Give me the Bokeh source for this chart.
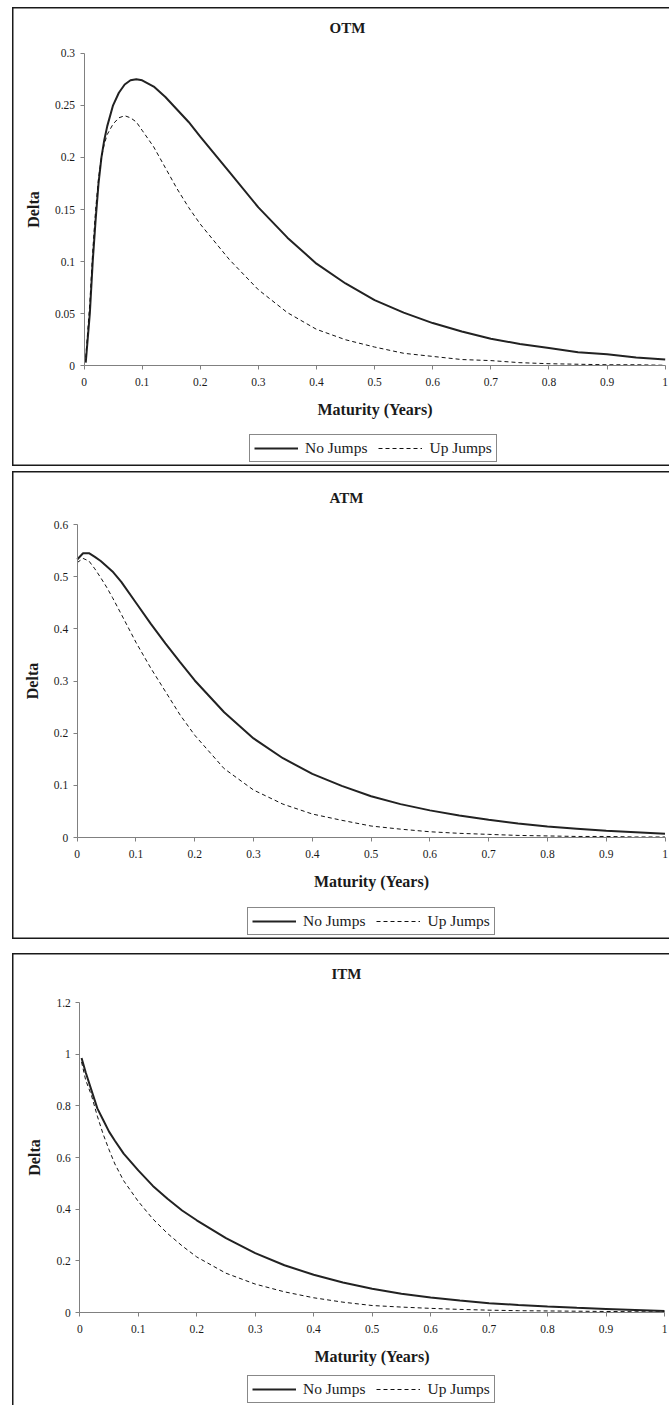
from bokeh.plotting import figure
from bokeh.models import (Range1d, FixedTicker, CustomJSTickFormatter, Legend,
                          LegendItem)
from bokeh.layouts import column
from bokeh.embed import file_html
from bokeh.resources import INLINE

# ---------------- data ----------------
X_TICKS = [0, 0.1, 0.2, 0.3, 0.4, 0.5, 0.6, 0.7, 0.8, 0.9, 1.0]
SERIES_NAMES = ["No Jumps", "Up Jumps"]

OTM_TITLE = "OTM"
OTM_Y_TICKS = [0, 0.05, 0.1, 0.15, 0.2, 0.25, 0.3]
OTM_X = [0.003, 0.01, 0.015, 0.02, 0.025, 0.03, 0.035, 0.04, 0.05, 0.06, 0.07,
         0.08, 0.09, 0.1, 0.12, 0.14, 0.16, 0.18, 0.2, 0.25, 0.3, 0.35, 0.4,
         0.45, 0.5, 0.55, 0.6, 0.65, 0.7, 0.75, 0.8, 0.85, 0.9, 0.95, 1.0]
OTM_NO_JUMPS = [0.003, 0.05, 0.1, 0.14, 0.175, 0.2, 0.217, 0.23, 0.25, 0.262,
                0.27, 0.274, 0.275, 0.274, 0.268, 0.258, 0.246, 0.234, 0.22,
                0.186, 0.152, 0.123, 0.098, 0.079, 0.063, 0.051, 0.041, 0.033,
                0.026, 0.021, 0.017, 0.013, 0.011, 0.008, 0.006]
OTM_UP_JUMPS = [0.008, 0.06, 0.11, 0.15, 0.18, 0.2, 0.213, 0.222, 0.232, 0.238,
                0.24, 0.238, 0.234, 0.226, 0.21, 0.19, 0.17, 0.152, 0.136,
                0.102, 0.073, 0.051, 0.035, 0.025, 0.018, 0.012, 0.009, 0.006,
                0.005, 0.003, 0.002, 0.0015, 0.001, 0.001, 0.0005]

ATM_TITLE = "ATM"
ATM_Y_TICKS = [0, 0.1, 0.2, 0.3, 0.4, 0.5, 0.6]
ATM_X = [0, 0.01, 0.02, 0.03, 0.04, 0.05, 0.06, 0.075, 0.1, 0.125, 0.15, 0.175,
         0.2, 0.25, 0.3, 0.35, 0.4, 0.45, 0.5, 0.55, 0.6, 0.65, 0.7, 0.75, 0.8,
         0.85, 0.9, 0.95, 1.0]
ATM_NO_JUMPS = [0.533, 0.545, 0.545, 0.538, 0.53, 0.52, 0.51, 0.49, 0.45, 0.41,
                0.372, 0.336, 0.301, 0.24, 0.19, 0.152, 0.122, 0.099, 0.079,
                0.064, 0.052, 0.042, 0.034, 0.027, 0.021, 0.017, 0.013, 0.01,
                0.007]
ATM_UP_JUMPS = [0.527, 0.535, 0.53, 0.515, 0.498, 0.48, 0.46, 0.428, 0.374,
                0.325, 0.28, 0.235, 0.196, 0.132, 0.091, 0.064, 0.045, 0.033,
                0.022, 0.016, 0.011, 0.008, 0.006, 0.004, 0.003, 0.002, 0.002,
                0.001, 0.001]

ITM_TITLE = "ITM"
ITM_Y_TICKS = [0, 0.2, 0.4, 0.6, 0.8, 1.0, 1.2]
ITM_X = [0.003, 0.01, 0.02, 0.03, 0.04, 0.05, 0.06, 0.075, 0.1, 0.125, 0.15,
         0.175, 0.2, 0.25, 0.3, 0.35, 0.4, 0.45, 0.5, 0.55, 0.6, 0.65, 0.7,
         0.75, 0.8, 0.85, 0.9, 0.95, 1.0]
ITM_NO_JUMPS = [0.985, 0.93, 0.86, 0.79, 0.745, 0.70, 0.665, 0.615, 0.55, 0.49,
                0.44, 0.395, 0.357, 0.288, 0.23, 0.183, 0.146, 0.116, 0.092,
                0.073, 0.058, 0.046, 0.036, 0.029, 0.023, 0.018, 0.014, 0.01,
                0.006]
ITM_UP_JUMPS = [0.97, 0.9, 0.84, 0.76, 0.69, 0.63, 0.575, 0.51, 0.43, 0.362,
                0.306, 0.258, 0.215, 0.152, 0.11, 0.08, 0.057, 0.04, 0.027,
                0.021, 0.016, 0.012, 0.009, 0.007, 0.006, 0.005, 0.004, 0.003,
                0.002]

# ---------------- styling / layout ----------------
FONT = "Liberation Serif"
AXIS_COLOR = "#808080"
TEXT_COLOR = "#1a1a1a"
FIG_W = 657
MB_LEFT = 2
MB_RIGHT = 0
MB_BOTTOM = 2
TITLE_STANDOFF = 15


def make_panel(title, x, no_jumps, up_jumps, y_ticks, height, mb_top,
               px_ytop, px_yzero, px_xzero, px_xone, title_offset, leg_loc,
               margin, shadow):
    """px_* : wanted pixel places (inside the figure) of the axis ends."""
    ymax = y_ticks[-1]
    f_left, f_right = MB_LEFT, FIG_W - MB_RIGHT
    f_top, f_bottom = mb_top, height - MB_BOTTOM
    ky = ymax / (px_yzero - px_ytop)
    kx = 1.0 / (px_xone - px_xzero)
    y_range = Range1d(-(f_bottom - px_yzero) * ky, ymax + (px_ytop - f_top) * ky)
    x_range = Range1d(-(px_xzero - f_left) * kx, 1 + (f_right - px_xone) * kx)

    p = figure(width=FIG_W, height=height, output_backend="svg",
               toolbar_location=None, title=title,
               x_range=x_range, y_range=y_range,
               min_border_left=MB_LEFT, min_border_right=MB_RIGHT,
               min_border_top=mb_top, min_border_bottom=MB_BOTTOM)
    p.frame_align = False
    p.margin = margin
    p.styles = {"box-shadow": shadow}
    p.border_fill_color = None
    p.background_fill_color = None
    p.outline_line_color = None
    p.xgrid.visible = False
    p.ygrid.visible = False

    p.title.text_font = FONT
    p.title.text_font_style = "bold"
    p.title.text_font_size = "15px"
    p.title.text_color = TEXT_COLOR
    p.title.align = "left"
    p.title.offset = title_offset
    p.title.vertical_align = "bottom"
    p.title.standoff = TITLE_STANDOFF

    fmt = CustomJSTickFormatter(code="return String(parseFloat(tick.toFixed(2)));")
    p.xaxis.ticker = FixedTicker(ticks=X_TICKS)
    p.yaxis.ticker = FixedTicker(ticks=y_ticks)
    p.xaxis.formatter = fmt
    p.yaxis.formatter = fmt
    p.xaxis.axis_label = "Maturity (Years)"
    p.yaxis.axis_label = "Delta"
    p.xaxis.fixed_location = 0
    p.yaxis.fixed_location = 0
    p.xaxis.bounds = (0, 1)
    p.yaxis.bounds = (0, ymax)
    for ax in (p.xaxis[0], p.yaxis[0]):
        ax.axis_line_color = AXIS_COLOR
        ax.axis_line_width = 1
        ax.major_tick_line_color = AXIS_COLOR
        ax.minor_tick_line_color = None
        ax.major_tick_out = 4
        ax.major_tick_in = 0
        ax.major_label_text_font = FONT
        ax.major_label_text_font_size = "11.5px"
        ax.major_label_text_color = TEXT_COLOR
        ax.axis_label_text_font = FONT
        ax.axis_label_text_font_style = "bold"
        ax.axis_label_text_font_size = "16px"
        ax.axis_label_text_color = TEXT_COLOR
    p.xaxis.major_label_standoff = 8
    p.xaxis.axis_label_standoff = 12
    p.yaxis.major_label_standoff = 5
    p.yaxis.axis_label_standoff = 10

    r1 = p.line(x, no_jumps, line_color="#222222", line_width=2)
    r2 = p.line(x, up_jumps, line_color="#111111", line_width=1, line_dash="4 3")

    legend = Legend(items=[LegendItem(label=SERIES_NAMES[0], renderers=[r1]),
                           LegendItem(label=SERIES_NAMES[1], renderers=[r2])],
                    orientation="horizontal", location=leg_loc)
    legend.border_line_color = "#111111"
    legend.border_line_width = 1
    legend.background_fill_color = "white"
    legend.background_fill_alpha = 1
    legend.label_text_font = FONT
    legend.label_text_font_size = "15.5px"
    legend.label_text_color = TEXT_COLOR
    legend.glyph_width = 44
    legend.glyph_height = 14
    legend.label_height = 14
    legend.label_standoff = 7
    legend.spacing = 11
    legend.padding = 4
    legend.margin = 0
    p.add_layout(legend)
    return p


SH_FULL = "inset 1.5px 1.5px 0 0 #1a1a1a, inset 0 -1.5px 0 0 #1a1a1a"
SH_OPEN = "inset 1.5px 1.5px 0 0 #1a1a1a"

p1 = make_panel(OTM_TITLE, OTM_X, OTM_NO_JUMPS, OTM_UP_JUMPS, OTM_Y_TICKS,
                height=459, mb_top=36, px_ytop=45.7, px_yzero=358.3,
                px_xzero=71.5, px_xone=652.7, title_offset=315,
                leg_loc=(235, 2), margin=(7, 0, 0, 12), shadow=SH_FULL)
p2 = make_panel(ATM_TITLE, ATM_X, ATM_NO_JUMPS, ATM_UP_JUMPS, ATM_Y_TICKS,
                height=468, mb_top=42, px_ytop=53, px_yzero=366,
                px_xzero=64.7, px_xone=652.5, title_offset=315,
                leg_loc=(233, 2), margin=(5, 0, 0, 12), shadow=SH_FULL)
p3 = make_panel(ITM_TITLE, ITM_X, ITM_NO_JUMPS, ITM_UP_JUMPS, ITM_Y_TICKS,
                height=452, mb_top=36, px_ytop=49, px_yzero=359,
                px_xzero=67.3, px_xone=652, title_offset=317,
                leg_loc=(233, 0), margin=(14, 0, 0, 12), shadow=SH_OPEN)

layout = column(p1, p2, p3, spacing=0)
open("out.html", "w").write(file_html(layout, INLINE))
